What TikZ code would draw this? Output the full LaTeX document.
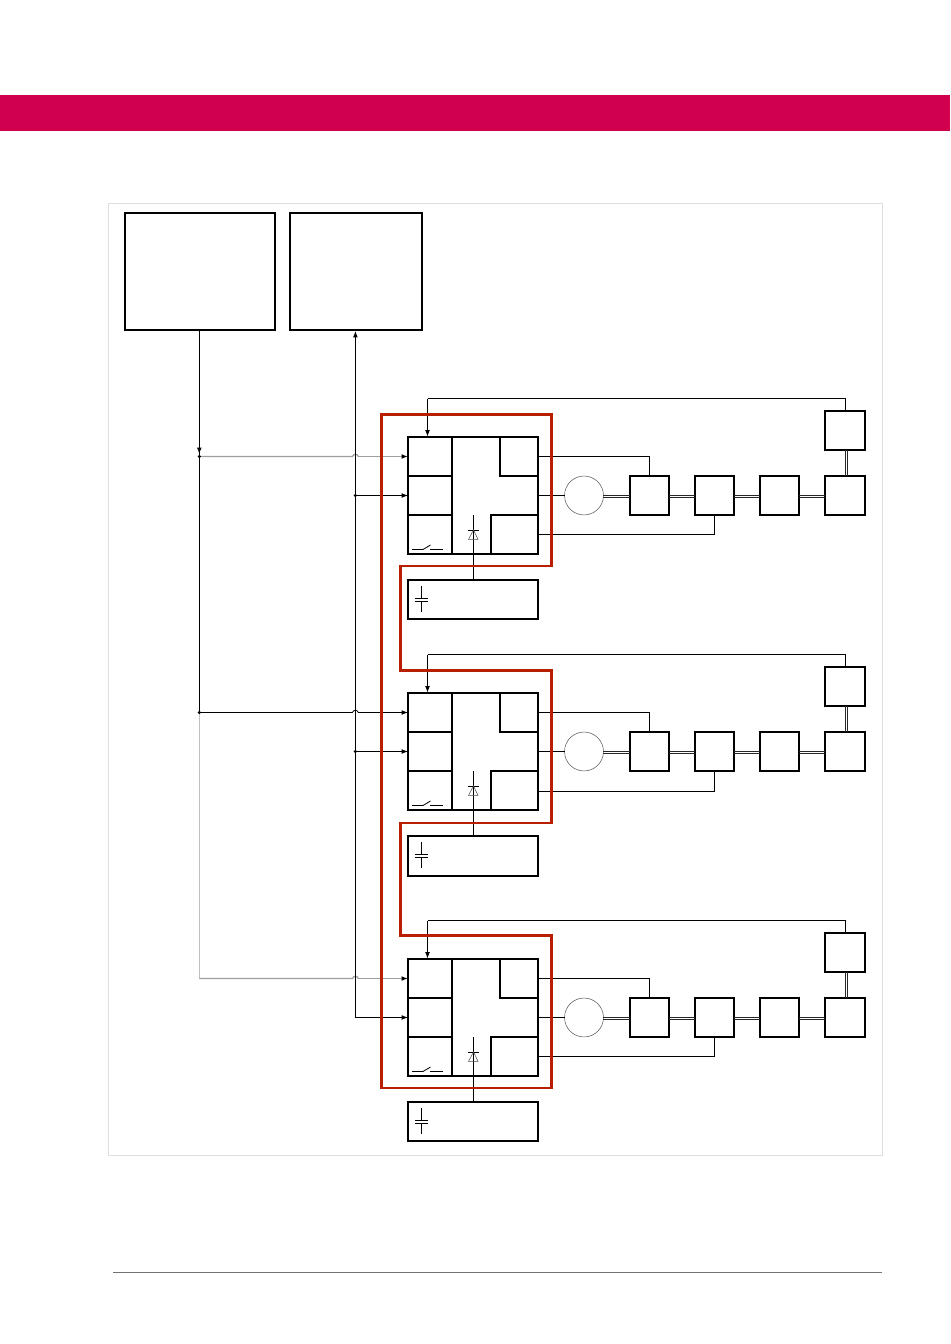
\documentclass[tikz,border=0pt]{standalone}
\usetikzlibrary{arrows.meta,calc}
\definecolor{band}{HTML}{D0004F}
\definecolor{redline}{HTML}{B81E00}
\definecolor{framegray}{HTML}{DFDFDF}
\tikzset{
  x=0.75pt,y=-0.75pt,
  boxnode/.style={draw=black,line width=1.25pt,fill=none,inner sep=0pt,outer sep=0pt,line join=miter},
  topnode/.style={boxnode,line width=1.75pt},
  wire/.style={draw=black,line width=0.62pt},
  greywire/.style={draw=black!38,line width=0.95pt},
  palewire/.style={draw=black!25,line width=0.7pt},
  sig/.style={-{Latex[length=4.8pt,width=3.6pt,color=black]}},
  rail/.style={draw=black!85,line width=0.55pt},
  thinsym/.style={draw=black!70,line width=0.4pt},
  redpath/.style={draw=redline,line width=2.2pt,line join=miter},
  dotnode/.style={circle,fill=black,inner sep=0pt,minimum size=2.6pt,outer sep=0pt},
}
% \pxbox{name}{style}{x1}{y1}{x2}{y2}
\newcommand{\pxbox}[6]{%
  \pgfmathsetmacro{\cxv}{((#3)+(#5))/2}\pgfmathsetmacro{\cyv}{((#4)+(#6))/2}%
  \pgfmathsetmacro{\wv}{((#5)-(#3))*0.75}\pgfmathsetmacro{\hv}{((#6)-(#4))*0.75}%
  \node[#2,minimum width=\wv pt,minimum height=\hv pt] (#1) at (\cxv,\cyv) {};}
\newcommand{\hrail}[2]{%
  \draw[rail] ($(#1)+(0,0)$) -- ($(#2)+(0,0)$);
  \draw[rail] ($(#1)+(0,2)$) -- ($(#2)+(0,2)$);}
\newcommand{\vrail}[2]{%
  \draw[rail] ($(#1)+(0,0)$) -- ($(#2)+(0,0)$);
  \draw[rail] ($(#1)+(2,0)$) -- ($(#2)+(2,0)$);}
\begin{document}
\begin{tikzpicture}
\useasboundingbox (0,0) rectangle (950,1344);
\fill[band] (0,95) rectangle (950,131);
\draw[framegray,line width=0.75pt] (108,204) rectangle (882,1155);
\draw[black!55,line width=0.6pt] (113,1272) -- (882,1272);
\pxbox{ctrlA}{topnode}{125}{213}{275}{330}
\pxbox{ctrlB}{topnode}{290}{213}{422}{330}
\coordinate (trunkA) at (199.3,331);
\coordinate (trunkB) at (355.4,331);

\foreach \u/\oy/\bq/\cb in {1/0/534.3/619,2/256/791.4/876,3/522/1056.3/1141}{
  \pxbox{main\u}{boxnode}{408}{437+\oy}{538}{554+\oy}
  \pxbox{la\u}{boxnode}{408}{437+\oy}{452}{476+\oy}
  \pxbox{lb\u}{boxnode}{408}{476+\oy}{452}{515+\oy}
  \pxbox{lc\u}{boxnode}{408}{515+\oy}{452}{554+\oy}
  \pxbox{tr\u}{boxnode}{500}{437+\oy}{538}{476+\oy}
  \pxbox{br\u}{boxnode}{491}{515+\oy}{538}{554+\oy}
  \pxbox{cap\u}{boxnode}{408}{580+\oy}{538}{\cb}
  \pxbox{ba\u}{boxnode}{630}{476+\oy}{669}{515+\oy}
  \pxbox{bb\u}{boxnode}{695}{476+\oy}{734}{515+\oy}
  \pxbox{bc\u}{boxnode}{760}{476+\oy}{799}{515+\oy}
  \pxbox{bd\u}{boxnode}{825}{476+\oy}{865}{515+\oy}
  \pxbox{up\u}{boxnode}{825}{411+\oy}{865}{450+\oy}
  \node[draw=black!65,line width=0.4pt,circle,inner sep=0pt,outer sep=0pt,minimum size=29.2pt] (mot\u) at (584,495.5+\oy) {};
  % connectors
  \hrail{mot\u.east}{ba\u.west}
  \hrail{ba\u.east}{bb\u.west}
  \hrail{bb\u.east}{bc\u.west}
  \hrail{bc\u.east}{bd\u.west}
  \vrail{up\u.south}{bd\u.north}
  \draw[wire] (tr\u.east) -| (ba\u.north);
  \draw[wire] (main\u.east) -- (mot\u.west);
  \coordinate (bq\u) at (538,\bq);
  \draw[wire] (bq\u) -| (bb\u.south);
  \coordinate (fb\u) at (427.5,398.6+\oy);
  \coordinate (fbin\u) at (427.5,436.5+\oy);
  \draw[wire] (up\u.north) |- (fb\u);
  \draw[wire,sig] (fb\u) -- (fbin\u);
  % diode
  \coordinate (dtop\u) at (473.5,515+\oy);
  \draw[wire] (cap\u.north -| dtop\u) -- (dtop\u);
  \draw[wire] (468,530+\oy) -- (478.5,530+\oy);
  \draw[thinsym] (468.5,539.3+\oy) -- (473.5,530+\oy) -- (478,539.3+\oy) -- cycle;
  % switch
  \draw[wire] (412,549.5+\oy) -- (423,549.5+\oy) -- (430.5,545+\oy);
  \draw[wire] (430,549.5+\oy) -- (443,549.5+\oy);
  % capacitor
  \draw[wire] (421.5,586+\oy) -- (421.5,598+\oy);
  \draw[wire] (421.5,601.5+\oy) -- (421.5,612+\oy);
  \draw[wire] (415,598+\oy) -- (428,598+\oy);
  \draw[wire] (415,601.5+\oy) -- (428,601.5+\oy);
  % inputs
  \coordinate (ja\u) at (la\u.west -| trunkA);
  \coordinate (hopl\u) at ($(la\u.west -| trunkB)+(-3,0)$);
  \coordinate (hopr\u) at ($(la\u.west -| trunkB)+(3,0)$);
  \coordinate (jb\u) at (lb\u.west -| trunkB);
}
% signal 1 trunk
\draw[wire] (trunkA) -- (ja2);
\draw[wire,sig] (trunkA) -- ($(ja1)+(0,-2.5)$);
\draw[palewire] (ja2) -- (ja3);
\node[dotnode] (d1) at (ja1) {};
\node[dotnode] (d2) at (ja2) {};
\draw[greywire] (d1) -- (hopl1) .. controls +(1.5,-3) and +(-1.5,-3) .. (hopr1);
\draw[greywire,sig] (hopr1) -- (la1.west);
\draw[wire] (d2) -- (hopl2) .. controls +(1.5,-3) and +(-1.5,-3) .. (hopr2);
\draw[wire,sig] (hopr2) -- (la2.west);
\draw[greywire] (ja3) -- (hopl3) .. controls +(1.5,-3) and +(-1.5,-3) .. (hopr3);
\draw[greywire,sig] (hopr3) -- (la3.west);
% signal 2 trunk
\draw[wire,sig] (jb3) -- (trunkB);
\node[dotnode] (e1) at (jb1) {};
\node[dotnode] (e2) at (jb2) {};
\draw[wire,sig] (e1) -- (lb1.west);
\draw[wire,sig] (e2) -- (lb2.west);
\draw[wire,sig] (jb3) -- (lb3.west);
% protective outline
\draw[redpath] (381.5,414.3) -- (551.5,414.3) -- (551.5,566) -- (400.5,566) -- (400.5,670.3)
  -- (551.5,670.3) -- (551.5,823) -- (400.5,823) -- (400.5,935.5) -- (551.5,935.5)
  -- (551.5,1088) -- (381.5,1088) -- cycle;
\end{tikzpicture}
\end{document}
